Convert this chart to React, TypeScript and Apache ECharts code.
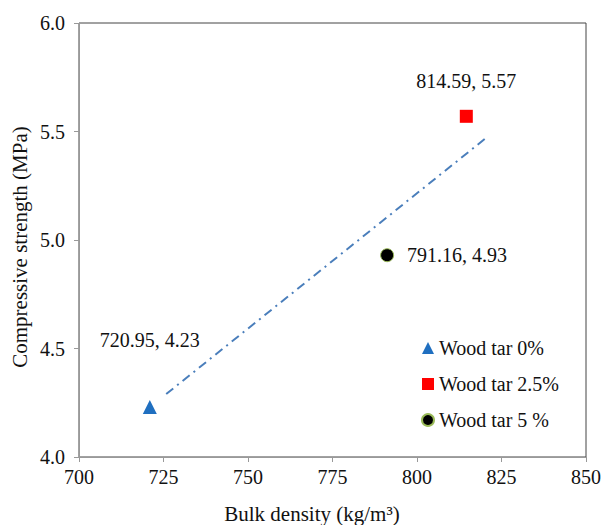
import React, { useEffect, useRef } from "react";
import * as echarts from "echarts";

const seriesNames = ["Wood tar 0%", "Wood tar 2.5%", "Wood tar 5 %"];
const densities = [720.95, 814.59, 791.16];
const strengths = [4.23, 5.57, 4.93];
const trendX = [725.8, 820.4];
const trendY = [4.29, 5.47];
const xTicks = [700, 850, 25];
const yTicks = [4.0, 6.0, 0.5];

const FONT = "'Liberation Serif', 'Times New Roman', serif";

export default function App() {
  const ref = useRef<HTMLDivElement>(null);
  useEffect(() => {
    document.body.style.margin = "0";
    const chart = echarts.init(ref.current!, null, { renderer: "svg" });
    const symbols = ["triangle", "rect", "circle"];
    const colors = ["#1f6fc0", "#ff0000", "#000000"];
    const sizes = [14, 13, 13];
    const labelPos: any[] = [
      { position: "top", distance: 50 },
      { position: "top", distance: 19 },
      { position: "right", distance: 13 },
    ];
    const scatter = seriesNames.map((name, i) => ({
      name,
      type: "scatter",
      symbol: symbols[i],
      symbolSize: sizes[i],
      itemStyle: {
        color: colors[i],
        opacity: 1,
        borderColor: i === 2 ? "#9bbb59" : colors[i],
        borderWidth: i === 2 ? 1 : 0,
      },
      label: {
        show: true,
        ...labelPos[i],
        color: "#111",
        fontFamily: FONT,
        fontSize: 20,
        formatter: (p: any) => `${p.value[0].toFixed(2)}, ${p.value[1].toFixed(2)}`,
      },
      data: [[densities[i], strengths[i]]],
      z: 3,
    }));
    chart.setOption({
      animation: false,
      textStyle: { fontFamily: FONT },
      grid: {
        left: 79,
        right: 15,
        top: 23,
        bottom: 68,
        show: true,
        borderColor: "#444",
        borderWidth: 1,
      },
      legend: {
        orient: "vertical",
        left: 416,
        top: 333,
        itemWidth: 12,
        itemHeight: 12,
        itemGap: 16,
        data: seriesNames,
        textStyle: { fontFamily: FONT, fontSize: 20, color: "#111" },
      },
      xAxis: {
        type: "value",
        min: xTicks[0],
        max: xTicks[1],
        interval: xTicks[2],
        axisLine: { show: true, lineStyle: { color: "#999" } },
        axisTick: { show: true, length: 5, lineStyle: { color: "#999" } },
        splitLine: { show: false },
        axisLabel: { color: "#111", fontFamily: FONT, fontSize: 20, margin: 10 },
      },
      yAxis: {
        type: "value",
        min: yTicks[0],
        max: yTicks[1],
        interval: yTicks[2],
        axisLine: { show: true, lineStyle: { color: "#999" } },
        axisTick: { show: true, length: 5, lineStyle: { color: "#999" } },
        splitLine: { show: false },
        axisLabel: {
          color: "#111",
          fontFamily: FONT,
          fontSize: 20,
          margin: 14,
          formatter: (v: number) => v.toFixed(1),
        },
      },
      graphic: [
        {
          type: "text",
          x: 20,
          y: 247,
          rotation: Math.PI / 2,
          style: {
            text: "Compressive strength (MPa)",
            fontFamily: FONT,
            fontSize: 21,
            fill: "#111",
            align: "center",
            verticalAlign: "middle",
          },
        },
        {
          type: "text",
          x: 312,
          y: 514,
          style: {
            text: "Bulk density (kg/m³)",
            fontFamily: FONT,
            fontSize: 21,
            fill: "#111",
            align: "center",
            verticalAlign: "middle",
          },
        },
      ],
      series: [
        {
          name: "trend",
          type: "line",
          symbol: "none",
          data: trendX.map((x, i) => [x, trendY[i]]),
          lineStyle: { color: "#4a7ebb", width: 2, type: [9, 5, 2, 5] },
          z: 2,
        },
        ...scatter,
      ],
    });
    return () => chart.dispose();
  }, []);
  return <div ref={ref} style={{ width: 604, height: 525 }} />;
}
